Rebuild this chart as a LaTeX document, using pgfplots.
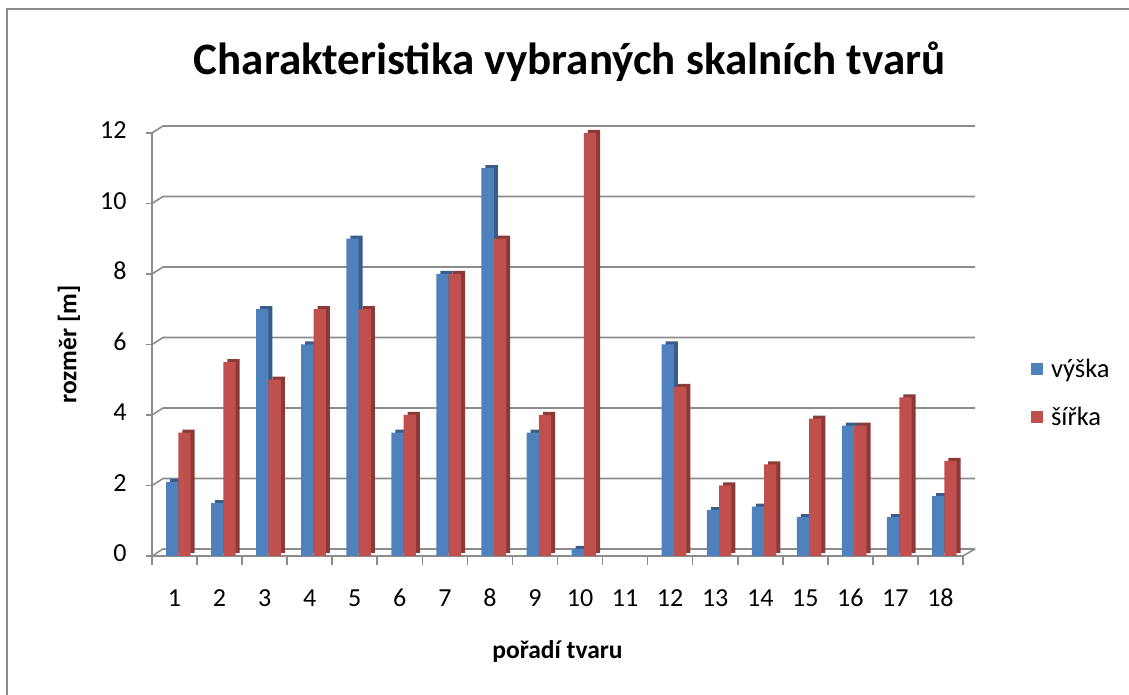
\documentclass[border=0pt]{standalone}
\usepackage{fontspec}
\setmainfont{Carlito}
\usepackage{pgfplots}
\pgfplotsset{compat=1.18}
\definecolor{sblue}{HTML}{4F81BD}
\definecolor{sred}{HTML}{C0504D}
\definecolor{dblue}{HTML}{385D8A}
\definecolor{dred}{HTML}{8C3A38}
\definecolor{gridc}{HTML}{8C8C8C}
\begin{document}
\begin{tikzpicture}[x=1pt,y=1pt]
\path[use as bounding box] (-152,-139) rectangle (977,556);
\draw[gridc, line width=2pt] (-145,-139) -- (-145,547) -- (977,547);
\begin{axis}[
  at={(0,0)}, anchor=south west,
  scale only axis, width=811pt, height=423pt,
  xmin=0.5, xmax=18.5, ymin=0, ymax=12,
  clip=false,
  axis x line*=bottom, axis y line*=left,
  axis line style={gridc, line width=1.6pt, -},
  ytick={0,2,...,12},
  xtick={1,...,18},
  minor xtick={0.5,1.5,...,18.5},
  major x tick style={draw=none},
  minor x tick style={gridc, line width=1.6pt},
  major y tick style={gridc, line width=1.6pt},
  tick align=outside,
  major tick length=6pt, minor tick length=9pt,
  /pgf/number format/assume math mode=true,
  typeset ticklabels with strut,
  tick label style={font=\fontsize{26}{30}\selectfont, text=black},
  yticklabel style={anchor=east, xshift=-16pt},
  xticklabel style={yshift=-20pt},
  title={Charakteristika vybraných skalních tvarů},
  title style={at={(axis description cs:0.515,1.1537)}, anchor=center, font=\fontsize{45}{52}\selectfont\bfseries},
  xlabel={pořadí tvaru},
  xlabel style={at={(axis description cs:0.5,-0.227)}, anchor=center, font=\fontsize{25.5}{30}\selectfont\bfseries},
  ylabel={rozměr [m]},
  ylabel style={at={(axis description cs:-0.1023,0.5)}, anchor=center, font=\fontsize{25.5}{30}\selectfont\bfseries},
  legend style={at={(1.08,0.475)}, anchor=north west, draw=none, fill=none, font=\fontsize{26.5}{30}\selectfont, row sep=24pt,
    /tikz/every odd column/.append style={column sep=6pt}},
  legend cell align=left,
]
\pgfplotsinvokeforeach{0,2,4,6,8,10,12}{
  \draw[gridc, line width=1.6pt] (axis cs:0.5,#1) -- ++(11pt,7pt) -- ([xshift=12pt,yshift=7pt]axis cs:18.5,#1);
}
\draw[gridc, line width=1.6pt] (axis cs:18.5,0) -- ++(12pt,7pt);
% blue side/top
\addplot[ybar, bar width=12.3pt, bar shift=-2.3pt, fill=dblue, draw=none, xshift=4pt, yshift=3pt, forget plot] coordinates {
(1,2.1) (2,1.5) (3,7) (4,6) (5,9) (6,3.5) (7,8) (8,11) (9,3.5) (10,0.2) (12,6) (13,1.3) (14,1.4) (15,1.1) (16,3.7) (17,1.1) (18,1.7)};
\addplot[ybar, bar width=12.3pt, bar shift=-2.3pt, fill=sblue, draw=none, legend image code/.code={\fill[sblue] (0pt,-6pt) rectangle (12pt,6pt);}] coordinates {
(1,2.1) (2,1.5) (3,7) (4,6) (5,9) (6,3.5) (7,8) (8,11) (9,3.5) (10,0.2) (12,6) (13,1.3) (14,1.4) (15,1.1) (16,3.7) (17,1.1) (18,1.7)};
\addlegendentry{výška}
\addplot[ybar, bar width=12.3pt, bar shift=10pt, fill=dred, draw=none, xshift=4pt, yshift=3pt, forget plot] coordinates {
(1,3.5) (2,5.5) (3,5) (4,7) (5,7) (6,4) (7,8) (8,9) (9,4) (10,12) (12,4.8) (13,2.0) (14,2.6) (15,3.9) (16,3.7) (17,4.5) (18,2.7)};
\addplot[ybar, bar width=12.3pt, bar shift=10pt, fill=sred, draw=none, legend image code/.code={\fill[sred] (0pt,-6pt) rectangle (12pt,6pt);}] coordinates {
(1,3.5) (2,5.5) (3,5) (4,7) (5,7) (6,4) (7,8) (8,9) (9,4) (10,12) (12,4.8) (13,2.0) (14,2.6) (15,3.9) (16,3.7) (17,4.5) (18,2.7)};
\addlegendentry{šířka}
\end{axis}
\end{tikzpicture}
\end{document}
